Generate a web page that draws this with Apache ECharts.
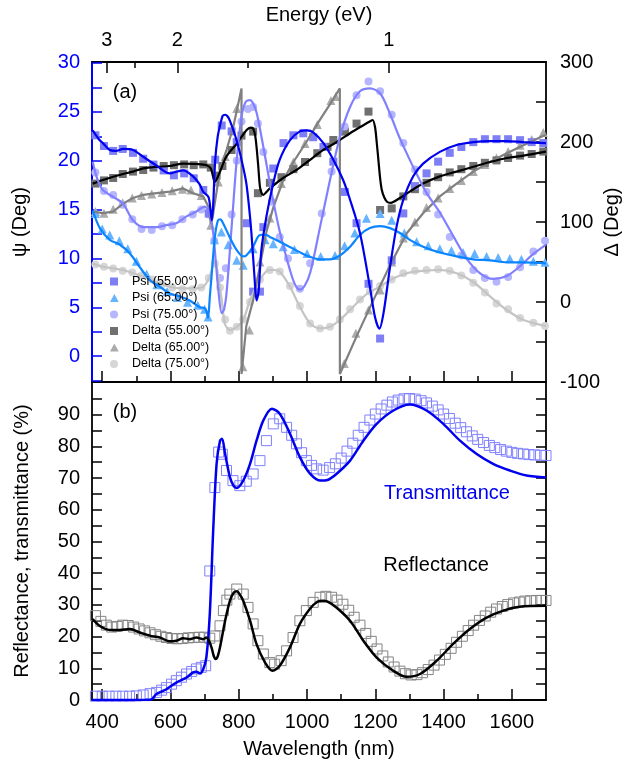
<!DOCTYPE html>
<html><head><meta charset="utf-8">
<script src="https://cdn.jsdelivr.net/npm/echarts@6/dist/echarts.min.js"></script>
<style>html,body{margin:0;padding:0;background:#fff}#c{width:626px;height:774px}</style>
</head><body><div id="c"></div>
<script>
// ---------- tick definitions ----------
const HC = 1239.84;
const energyMajor = [3, 2, 1];
const energyMinor = [2.5, 1.5];
const wlMajor = [400, 600, 800, 1000, 1200, 1400, 1600];
const wlMinor = [500, 700, 900, 1100, 1300, 1500];
const psiTicks = [-2.5, 0, 2.5, 5, 7.5, 10, 12.5, 15, 17.5, 20, 22.5, 25, 27.5, 30];
const psiLabels = [0, 5, 10, 15, 20, 25, 30];
const deltaTicks = [-100, -50, 0, 50, 100, 150, 200, 250, 300];
const deltaLabels = [-100, 0, 100, 200, 300];
const rtTicks = [0, 5, 10, 15, 20, 25, 30, 35, 40, 45, 50, 55, 60, 65, 70, 75, 80, 85, 90, 95];
const rtLabels = [0, 10, 20, 30, 40, 50, 60, 70, 80, 90];

// ---------- panel (a): ellipsometry, [wavelength nm, value] ----------
const psi55Fit = [[372,23.1],[390,22.2],[402,21.8],[422,21.1],[440,21.0],[461,21.2],[490,21.1],[520,20.4],[559,19.5],[598,18.7],[620,18.9],[637,19.0],[666,18.4],[685,17.6],[696,16.8],[711,16.3],[717,15.0],[721,13.9],[725,15.5],[731,20.1],[738,22.4],[745,23.6],[753,24.6],[760,24.7],[768,24.5],[775,24.0],[790,22.5],[802,21.0],[813,19.3],[822,17.7],[830,15.3],[837,12.6],[846,8.1],[852,5.7],[858,6.6],[866,10.8],[881,14.3],[901,17.7],[920,20.1],[950,22.1],[979,23.0],[1000,23.1],[1018,22.9],[1048,21.8],[1077,20.1],[1106,18.0],[1126,16.0],[1155,12.6],[1184,7.1],[1199,4.0],[1212,2.8],[1224,4.4],[1243,9.1],[1262,13.2],[1282,16.0],[1311,18.4],[1340,19.7],[1389,20.9],[1438,21.6],[1487,21.9],[1536,22.0],[1585,22.0],[1634,21.9],[1700,21.8]];
const psi55Pts = [[380,22.6],[405,21.5],[432,21.0],[460,21.2],[490,20.8],[520,20.2],[550,19.6],[580,19.0],[610,18.5],[640,18.7],[668,18.2],[696,17.0],[712,14.6],[731,20.1],[750,23.6],[779,23.0],[794,21.9],[823,13.6],[842,6.6],[862,6.6],[872,13.2],[901,19.2],[931,21.8],[960,22.6],[989,22.8],[1018,22.4],[1048,21.4],[1077,19.9],[1111,16.8],[1145,13.6],[1180,7.4],[1214,1.8],[1248,9.8],[1282,14.6],[1316,17.4],[1350,18.7],[1384,19.9],[1418,20.8],[1452,21.4],[1487,21.9],[1521,22.2],[1555,22.2],[1589,22.2],[1624,22.1],[1658,21.9],[1692,21.8]];

const psi65Fit = [[372,14.9],[393,13.1],[422,11.9],[452,11.4],[481,10.5],[510,9.1],[539,7.8],[569,7.1],[598,6.4],[627,6.1],[656,5.7],[686,5.0],[700,4.9],[706,4.5],[710,3.9],[715,6.0],[720,8.1],[730,12.2],[739,13.9],[746,14.0],[754,13.6],[773,12.2],[793,10.9],[813,10.2],[822,10.3],[842,11.2],[856,12.2],[866,12.4],[880,12.4],[891,12.2],[920,11.7],[959,11.0],[998,10.3],[1038,9.9],[1067,9.9],[1096,10.3],[1126,11.2],[1155,12.4],[1184,13.1],[1214,13.3],[1243,13.1],[1272,12.6],[1301,11.9],[1340,11.2],[1389,10.6],[1438,10.2],[1487,9.9],[1536,9.8],[1585,9.6],[1634,9.6],[1700,9.5]];
const psi65Pts = [[380,14.6],[400,13.0],[422,12.4],[450,11.8],[475,11.0],[500,9.7],[530,8.4],[560,7.3],[590,6.6],[620,6.0],[650,5.5],[680,5.2],[700,4.8],[710,4.0],[729,11.9],[749,12.7],[769,11.4],[794,9.8],[813,9.3],[842,11.0],[877,11.9],[901,11.5],[930,11.2],[963,10.9],[1000,10.5],[1040,10.2],[1082,10.3],[1110,11.3],[1140,12.6],[1174,14.1],[1214,14.6],[1248,13.9],[1285,12.6],[1321,11.7],[1355,11.3],[1389,11.0],[1423,10.8],[1457,10.6],[1491,10.5],[1526,10.2],[1560,10.1],[1594,10.0],[1628,9.9],[1663,9.7],[1697,9.6]];

const psi75Fit = [[372,19.9],[385,18.2],[402,17.0],[432,16.3],[461,15.6],[490,13.9],[520,13.2],[559,13.2],[588,13.4],[617,13.6],[647,14.3],[676,14.8],[700,15.3],[715,14.6],[725,12.6],[733,9.5],[740,6.8],[750,4.4],[757,4.8],[764,6.4],[779,13.2],[794,20.1],[808,24.5],[820,26.0],[833,26.2],[843,25.8],[853,24.8],[872,21.4],[897,16.6],[921,12.6],[950,8.8],[965,7.3],[979,6.8],[993,7.2],[1009,8.5],[1038,13.2],[1067,18.0],[1096,22.4],[1126,25.5],[1155,27.1],[1184,27.4],[1214,26.9],[1243,24.8],[1268,22.6],[1290,20.9],[1316,19.0],[1350,16.7],[1389,14.7],[1428,12.3],[1467,10.0],[1506,8.5],[1545,7.9],[1585,8.2],[1624,9.2],[1658,10.3],[1700,11.4]];
const psi75Pts = [[380,18.8],[405,16.9],[432,16.5],[460,15.5],[488,14.0],[515,13.0],[545,12.9],[575,13.3],[605,13.4],[635,14.0],[665,14.5],[690,15.0],[712,14.5],[728,11.8],[745,8.0],[762,9.0],[779,14.5],[794,20.0],[808,24.0],[827,25.3],[842,25.5],[856,23.8],[872,20.9],[897,15.8],[920,12.2],[944,10.0],[979,6.9],[1009,9.5],[1043,14.6],[1072,18.9],[1110,23.5],[1145,26.7],[1180,28.1],[1214,27.1],[1248,24.7],[1282,21.8],[1316,19.1],[1350,16.8],[1384,14.5],[1418,12.2],[1452,10.3],[1487,8.8],[1521,8.0],[1555,7.6],[1589,8.1],[1624,9.1],[1663,10.7],[1697,11.8]];

const delta55Fit = [[372,148],[402,152.5],[432,156.6],[461,160],[490,163],[520,167],[559,169],[598,170],[637,173],[676,172.5],[706,171],[718,167],[724,158],[730,150],[737,155],[745,163],[764,182],[794,198],[823,215],[835,218],[842,217],[848,208],[852,194],[857,170],[862,144],[867,136],[872,134],[880,137],[891,142],[930,155],[969,165],[1008,177.5],[1047,190],[1087,200],[1126,211],[1165,221],[1185,226],[1192,227.5],[1199,219],[1204,200],[1209,177.5],[1214,155],[1219,140],[1226,131],[1235,125],[1245,124],[1272,130],[1301,138],[1340,148],[1389,157],[1438,163],[1487,169],[1536,175],[1585,180],[1634,183],[1700,188]];
const delta55Pts = [[380,148],[405,152],[432,155],[460,160],[490,163],[520,165],[550,168],[580,170],[610,171],[640,172],[668,171],[696,172],[718,168],[735,158],[752,170],[779,190],[808,208],[842,213],[856,136],[891,149],[925,156],[960,166],[994,175],[1030,186],[1060,194],[1077,202.5],[1111,213],[1145,223],[1180,238],[1214,115],[1248,117],[1282,132],[1316,141],[1350,149],[1384,156],[1418,162],[1452,166],[1487,170],[1521,174],[1555,177],[1589,180],[1624,183],[1658,185],[1692,188]];

const delta65Fit = [[372,113],[402,111],[432,113],[461,123],[490,130],[520,134],[559,136],[598,138],[637,142],[666,136],[696,132],[711,119],[718,98],[723,105],[728,119],[745,165],[764,190],[784,219],[803,257],[808,267],[808.2,-90],[822,-30],[842,2],[862,45],[881,88],[901,118],[930,152],[960,175],[998,200],[1038,228],[1067,247],[1096,267],[1096.2,-90],[1145,-43],[1194,2],[1243,46],[1292,86],[1340,111],[1389,132],[1438,148],[1487,163],[1536,175],[1585,186],[1634,196],[1688,207],[1700,209]];
const delta65Pts = [[380,113],[405,111],[432,116],[460,124],[488,130],[515,133],[545,135],[575,137],[605,139],[635,141],[660,140],[690,133],[718,96],[740,150],[760,182],[794,242],[812,-81],[831,-35],[862,50],[891,105],[925,148],[960,175],[994,198],[1030,222],[1070,252],[1084,257],[1109,-77],[1143,-39],[1180,-10],[1214,15],[1248,50],[1282,80],[1316,100],[1350,118],[1384,130],[1418,142],[1452,152],[1487,163],[1521,172],[1555,180],[1589,188],[1624,196],[1658,203],[1692,212]];

const delta75Fit = [[372,48],[402,44],[432,42],[461,40],[490,36],[520,32],[559,25],[598,19],[637,17],[666,17],[696,19],[715,32],[723,44],[730,50],[735,45],[740,32],[750,2.5],[759,-27],[767,-33],[774,-35],[794,-31],[813,-22.5],[833,2.5],[862,27.5],[880,38],[891,40],[905,40],[920,38],[950,19],[979,-6],[1009,-27],[1038,-33],[1067,-31],[1096,-22.5],[1126,-10],[1155,2.5],[1184,13],[1214,19],[1243,27.5],[1292,36],[1340,39],[1389,40],[1438,36],[1487,25],[1536,7],[1585,-10],[1634,-22.5],[1700,-30]];
const delta75Pts = [[380,47],[405,44],[432,42],[460,39],[488,37],[515,33],[545,28],[575,22],[605,18],[635,16],[665,16],[690,18],[712,30],[730,48],[745,18],[760,-22],[774,-36],[794,-31],[813,-22],[833,0],[862,28],[891,40],[920,38],[950,20],[979,-5],[1009,-27],[1038,-33],[1067,-31],[1096,-22],[1126,-9],[1155,3],[1184,13],[1214,20],[1248,28],[1282,36],[1316,39],[1350,40],[1384,41],[1418,39],[1452,33],[1487,24],[1521,12],[1555,-2],[1589,-9],[1624,-20],[1663,-26],[1697,-30]];

// ---------- panel (b): transmittance / reflectance (%) ----------
const tFit = [[370,0],[540,0],[559,1.9],[588,3.4],[617,5.5],[647,7.1],[666,8.7],[676,8.9],[686,8.4],[696,9.8],[705,13.4],[715,27],[725,53.4],[735,74.5],[745,81.8],[751,82.4],[760,77.6],[774,70.3],[785,67.5],[794,66.9],[813,69.2],[833,74.5],[852,81.8],[872,88.2],[897,91.9],[920,90.3],[950,84],[979,76.6],[1008,71.5],[1040,69.2],[1060,69.4],[1086,71.3],[1126,75.5],[1165,81.8],[1204,87.1],[1253,91.3],[1301,93.2],[1350,91.3],[1399,87.1],[1448,81.8],[1497,77.6],[1545,74.5],[1594,72.4],[1643,70.8],[1700,70.2]];
const tPts = [[380,1.2],[400,1.2],[420,1.2],[440,1.2],[460,1.2],[480,1.2],[500,1.3],[520,1.6],[540,2.0],[559,2.4],[574,3.1],[588,3.9],[603,5.0],[617,6.1],[632,7.2],[647,8.2],[662,9.0],[676,9.8],[690,10.3],[703,10.8],[715,40.7],[730,67],[741,78.2],[752,77.5],[764,72.4],[783,69.2],[803,67.6],[822,69],[842,71.3],[862,75.5],[881,81.8],[901,87.1],[920,88.7],[940,86],[955,83.5],[969,80.8],[984,78],[998,75.5],[1013,74],[1028,72.9],[1047,72.5],[1066,73.3],[1083,74.5],[1100,76.3],[1117,78.5],[1134,81],[1150,83.5],[1167,86],[1184,88.3],[1200,90.2],[1217,91.8],[1234,93],[1250,94],[1267,94.6],[1284,95],[1300,95.1],[1317,94.9],[1334,94.4],[1350,93.7],[1367,92.7],[1384,91.5],[1400,90.2],[1417,88.8],[1434,87.3],[1450,85.9],[1467,84.6],[1484,83.3],[1500,82.2],[1517,81.2],[1534,80.3],[1550,79.6],[1567,79.0],[1584,78.5],[1600,78.1],[1617,77.8],[1634,77.6],[1650,77.4],[1667,77.3],[1684,77.2],[1700,77.1]];
const rFit = [[372,25.5],[392,23.4],[422,22.1],[451,22.1],[481,22.4],[510,21.3],[539,20.3],[569,19.7],[598,18.5],[617,18.7],[637,19.5],[656,19.2],[676,19.7],[696,19.2],[705,19.7],[712,18.8],[720,16.6],[727,13.8],[733,12.9],[739,14.0],[745,16.6],[760,25],[774,31.3],[785,33.8],[794,34.3],[803,33.3],[813,31.3],[833,25],[852,17.6],[877,11.8],[899,9.2],[920,10.8],[950,16.6],[979,24],[1008,28.7],[1030,31.0],[1047,31.3],[1060,31.0],[1086,29.2],[1126,25],[1165,18.7],[1204,13.4],[1253,9.2],[1292,7.3],[1331,8.2],[1380,12.4],[1428,17.7],[1477,22.4],[1526,26],[1575,28.2],[1623,29.4],[1700,29.7]];
const rPts = [[380,26.6],[396,24.8],[412,23.6],[428,23.0],[444,23.2],[460,23.6],[476,23.5],[492,23.0],[508,22.4],[524,21.8],[540,21.2],[556,20.6],[572,20.1],[588,19.7],[604,19.4],[620,19.3],[636,19.4],[652,19.6],[668,19.7],[684,19.8],[700,19.8],[715,19.5],[730,20.2],[745,23.4],[755,28.2],[765,31.5],[774,33.4],[794,35],[813,33.4],[827,29.2],[842,24],[856,18.7],[872,14.5],[891,11.8],[905,11.3],[924,12.4],[940,15.5],[959,19.7],[979,25],[998,28.2],[1018,30.8],[1038,32.4],[1055,32.7],[1072,32.4],[1088,31.5],[1105,30.2],[1122,28.3],[1138,26.1],[1155,23.6],[1172,21.0],[1188,18.5],[1205,16.1],[1222,13.9],[1238,12.0],[1255,10.4],[1272,9.1],[1288,8.3],[1305,7.9],[1322,8.0],[1338,8.6],[1355,9.6],[1372,11.0],[1388,12.6],[1405,14.4],[1422,16.3],[1438,18.2],[1455,20.1],[1472,21.9],[1488,23.6],[1505,25.1],[1522,26.5],[1538,27.7],[1555,28.7],[1572,29.5],[1588,30.1],[1605,30.6],[1622,30.9],[1638,31.2],[1655,31.3],[1672,31.4],[1688,31.4],[1700,31.4]];

// ---------- chart ----------
const FONT = 'Liberation Sans, Arial, sans-serif';
const WMIN = 370, WMAX = 1700;
const chart = echarts.init(document.getElementById('c'), null, {renderer: 'canvas'});

function xAx(grid, pos, ticks, len, opts) {
  return Object.assign({
    type: 'value', gridIndex: grid, position: pos, min: WMIN, max: WMAX,
    axisLine: {show: true, onZero: false, lineStyle: {color: '#000', width: 1.8}},
    axisTick: {show: true, inside: true, length: len, customValues: ticks, lineStyle: {color: '#000', width: 1.5}},
    axisLabel: {show: false},
    splitLine: {show: false}
  }, opts || {});
}
function yAx(grid, pos, min, max, ticks, opts) {
  return Object.assign({
    type: 'value', gridIndex: grid, position: pos, min: min, max: max,
    axisLine: {show: true, onZero: false, lineStyle: {color: '#000', width: 1.8}},
    axisTick: {show: true, inside: true, length: 10, customValues: ticks, lineStyle: {color: '#000', width: 1.5}},
    axisLabel: {show: false},
    splitLine: {show: false}
  }, opts || {});
}
const lbl = (vals, extra) => Object.assign({show: true, customValues: vals, color: '#000', fontSize: 20, fontFamily: FONT, margin: 12, hideOverlap: false, formatter: v => String(v)}, extra || {});
const nameStyle = {color: '#000', fontSize: 20, fontFamily: FONT};

function scat(name, data, xi, yi, symbol, size, color, hollow) {
  return {
    name: name, type: 'scatter', xAxisIndex: xi, yAxisIndex: yi, data: data,
    symbol: symbol, symbolSize: size, silent: true,
    itemStyle: hollow ? {color: 'rgba(0,0,0,0)', borderColor: color, borderWidth: 1, opacity: 1}
                      : {color: color, opacity: 1}
  };
}
function fit(name, data, xi, yi, color, width, smooth) {
  return {
    name: name, type: 'line', xAxisIndex: xi, yAxisIndex: yi, data: data,
    showSymbol: false, symbol: 'none', smooth: smooth, silent: true,
    lineStyle: {color: color, width: width}
  };
}
const PAD = ' M17,8L17,8';
const icoRect = 'path://M0,0L8,0L8,8L0,8Z' + PAD;
const icoTri = 'path://M4,0L8.5,8L-0.5,8Z' + PAD;
const icoCirc = 'path://M0,4A4,4 0 1,1 8,4A4,4 0 1,1 0,4Z' + PAD;

const option = {
  animation: false,
  backgroundColor: '#fff',
  textStyle: {fontFamily: FONT},
  grid: [
    {left: 92, top: 62, width: 454, height: 320, containLabel: false, outerBoundsMode: 'none'},
    {left: 92, top: 382, width: 454, height: 318, containLabel: false, outerBoundsMode: 'none'}
  ],
  xAxis: [
    xAx(0, 'bottom', wlMajor, 11),
    xAx(0, 'bottom', wlMinor, 6, {axisLine: {show: false, onZero: false}}),
    xAx(0, 'top', energyMajor.map(e => HC / e), 11, {
      axisLabel: lbl(energyMajor.map(e => HC / e), {formatter: v => String(Math.round(HC / v))}),
      name: 'Energy (eV)', nameLocation: 'middle', nameGap: 37, nameTextStyle: nameStyle
    }),
    xAx(0, 'top', energyMinor.map(e => HC / e), 6, {axisLine: {show: false, onZero: false}}),
    xAx(1, 'bottom', wlMajor, 11, {
      axisLabel: lbl(wlMajor),
      name: 'Wavelength (nm)', nameLocation: 'middle', nameGap: 39, nameTextStyle: nameStyle
    }),
    xAx(1, 'bottom', wlMinor, 6, {axisLine: {show: false, onZero: false}})
  ],
  yAxis: [
    yAx(0, 'left', -2.65, 30.1, psiTicks, {
      axisLine: {show: true, onZero: false, lineStyle: {color: '#0000ff', width: 2}},
      axisTick: {show: true, inside: true, length: 10, customValues: psiTicks, lineStyle: {color: '#0000ff', width: 1.5}},
      axisLabel: lbl(psiLabels, {color: '#0000ff'}),
      name: 'ψ (Deg)', nameLocation: 'middle', nameGap: 62, nameTextStyle: nameStyle
    }),
    yAx(0, 'right', -100, 300, deltaTicks, {
      axisLabel: lbl(deltaLabels, {margin: 14}),
      name: 'Δ (Deg)', nameLocation: 'middle', nameGap: 56, nameMoveOverlap: false, nameTextStyle: nameStyle
    }),
    yAx(1, 'left', 0, 100.3, rtTicks, {
      axisLabel: lbl(rtLabels),
      name: 'Reflectance, transmittance (%)', nameLocation: 'middle', nameGap: 60, nameTextStyle: nameStyle
    }),
    yAx(1, 'right', 0, 100.3, rtTicks)
  ],
  legend: {
    orient: 'vertical', left: 110, top: 275, padding: 0,
    itemWidth: 17, itemHeight: 8, itemGap: 3.5,
    textStyle: {fontSize: 12.5, color: '#000', fontFamily: FONT},
    data: [
      {name: 'Psi (55.00°)', icon: icoRect},
      {name: 'Psi (65.00°)', icon: icoTri},
      {name: 'Psi (75.00°)', icon: icoCirc},
      {name: 'Delta (55.00°)', icon: icoRect},
      {name: 'Delta (65.00°)', icon: icoTri},
      {name: 'Delta (75.00°)', icon: icoCirc}
    ],
    selectedMode: false
  },
  graphic: [
    {type: 'text', x: 125, y: 92, style: {text: '(a)', fill: '#000', font: '20px ' + FONT, align: 'center', verticalAlign: 'middle'}},
    {type: 'text', x: 125, y: 412, style: {text: '(b)', fill: '#000', font: '20px ' + FONT, align: 'center', verticalAlign: 'middle'}},
    {type: 'text', x: 447, y: 493, style: {text: 'Transmittance', fill: '#0000ee', font: '20px ' + FONT, align: 'center', verticalAlign: 'middle'}},
    {type: 'text', x: 436, y: 565, style: {text: 'Reflectance', fill: '#000', font: '20px ' + FONT, align: 'center', verticalAlign: 'middle'}}
  ],
  series: [
    scat('Delta (75.00°)', delta75Pts, 0, 1, 'circle', 8, '#d6d6d6'),
    scat('Delta (65.00°)', delta65Pts, 0, 1, 'triangle', 9, '#ababab'),
    scat('Delta (55.00°)', delta55Pts, 0, 1, 'rect', 8, '#707070'),
    scat('Psi (75.00°)', psi75Pts, 0, 0, 'circle', 8, '#b6b6ff'),
    scat('Psi (65.00°)', psi65Pts, 0, 0, 'triangle', 9, '#66b3ff'),
    scat('Psi (55.00°)', psi55Pts, 0, 0, 'rect', 8, '#7f7ff5'),
    fit('d75fit', delta75Fit, 0, 1, '#c4c4c4', 2.2, 0.3),
    fit('d65fit', delta65Fit, 0, 1, '#808080', 2.2, false),
    fit('d55fit', delta55Fit, 0, 1, '#000000', 2.2, 0.3),
    fit('p75fit', psi75Fit, 0, 0, '#8080ff', 2.2, 0.3),
    fit('p65fit', psi65Fit, 0, 0, '#0a84ff', 2.2, 0.3),
    fit('p55fit', psi55Fit, 0, 0, '#0000ee', 2.2, 0.3),
    scat('T data', tPts, 4, 2, 'rect', 10, '#8080ff', true),
    scat('R data', rPts, 4, 2, 'rect', 10, '#858585', true),
    fit('T fit', tFit, 4, 2, '#0000ee', 2.5, 0.3),
    fit('R fit', rFit, 4, 2, '#000000', 2.5, 0.3)
  ]
};
chart.setOption(option);
</script></body></html>
